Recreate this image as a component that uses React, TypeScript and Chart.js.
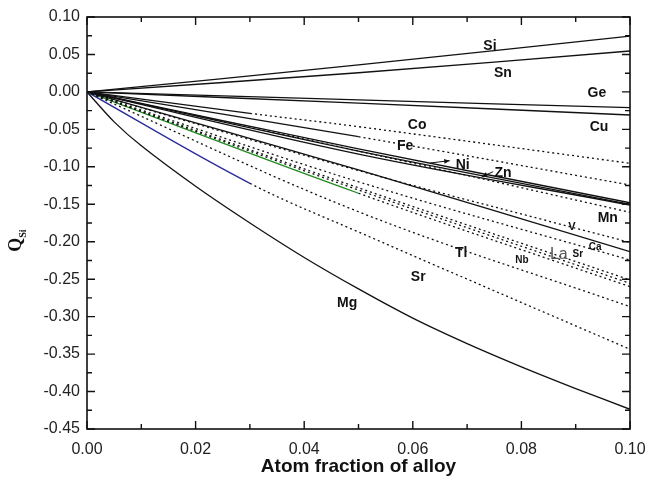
import React, { useEffect, useRef } from "react";
import { Chart, registerables } from "chart.js";

Chart.register(...registerables);

// ---------- data ----------
const X_TICKS = [0, 0.02, 0.04, 0.06, 0.08, 0.1];
const Y_TICKS = [0.1, 0.05, 0, -0.05, -0.1, -0.15, -0.2, -0.25, -0.3, -0.35, -0.4, -0.45];

const xLin = [0, 0.05, 0.1];
const siY = [0, 0.036, 0.0746];
const snY = [0, 0.0256, 0.0546];
const geY = [0, -0.0107, -0.0211];
const cuY = [0, -0.015, -0.0308];

const xCo = [0, 0.03, 0.05, 0.1];
const coY = [0, -0.0286, -0.0464, -0.0953];

const feY = [0, -0.0598, -0.1243];
const niY = [0, -0.076, -0.148];
const znY = [0, -0.079, -0.15];
const c3Y = [0, -0.083, -0.151];
const mnY = [0, -0.079, -0.1607];
const vY = [0, -0.105, -0.201];
const s2Y = [0, -0.104, -0.2133];
const caY = [0, -0.12, -0.2244];
const srSmallY = [0, -0.128, -0.251];
const laY = [0, -0.131, -0.2555];
const tlY = [0, -0.16, -0.2867];

const xGreen = [0, 0.05, 0.1];
const greenY = [0, -0.1353, -0.26];
const xSr = [0, 0.03, 0.05, 0.1];
const srY = [0, -0.122, -0.187, -0.3436];

const xMg = [0, 0.005, 0.01, 0.02, 0.03, 0.04, 0.05, 0.06, 0.07, 0.08, 0.09, 0.1];
const mgY = [0, -0.04, -0.072, -0.126, -0.175, -0.221, -0.263, -0.302, -0.336, -0.367, -0.396, -0.4237];

type Series = { xs: number[]; ys: number[]; solidTo: number; color?: string };

const SERIES: Series[] = [
  { xs: xLin, ys: siY, solidTo: 1 },
  { xs: xLin, ys: snY, solidTo: 1 },
  { xs: xLin, ys: geY, solidTo: 1 },
  { xs: xLin, ys: cuY, solidTo: 1 },
  { xs: xCo, ys: coY, solidTo: 0.03 },
  { xs: xLin, ys: feY, solidTo: 0.05 },
  { xs: xLin, ys: niY, solidTo: 1 },
  { xs: xLin, ys: znY, solidTo: 1 },
  { xs: xLin, ys: c3Y, solidTo: 1 },
  { xs: xLin, ys: mnY, solidTo: 0 },
  { xs: xLin, ys: vY, solidTo: 0 },
  { xs: xLin, ys: s2Y, solidTo: 1 },
  { xs: xLin, ys: caY, solidTo: 0 },
  { xs: xLin, ys: srSmallY, solidTo: 0 },
  { xs: xLin, ys: laY, solidTo: 0 },
  { xs: xLin, ys: tlY, solidTo: 0 },
  { xs: xGreen, ys: greenY, solidTo: 0.05, color: "#1f8a1f" },
  { xs: xSr, ys: srY, solidTo: 0.03, color: "#2b2b9c" },
  { xs: xMg, ys: mgY, solidTo: 1 },
];

type Lbl = { t: string; x: number; y: number; size: number; bold?: boolean; color?: string };
const LABELS: Lbl[] = [
  { t: "Si", x: 0.0742, y: 0.0613, size: 14, bold: true },
  { t: "Sn", x: 0.0766, y: 0.0252, size: 14, bold: true },
  { t: "Ge", x: 0.0939, y: -0.0015, size: 14, bold: true },
  { t: "Cu", x: 0.0943, y: -0.0468, size: 14, bold: true },
  { t: "Co", x: 0.0608, y: -0.0442, size: 14, bold: true },
  { t: "Fe", x: 0.0586, y: -0.0722, size: 14, bold: true },
  { t: "Ni", x: 0.0692, y: -0.0976, size: 14, bold: true },
  { t: "Zn", x: 0.0766, y: -0.1083, size: 14, bold: true },
  { t: "Mn", x: 0.0959, y: -0.1683, size: 14, bold: true },
  { t: "V", x: 0.0893, y: -0.1803, size: 11, bold: true },
  { t: "Ca", x: 0.0936, y: -0.207, size: 10, bold: true },
  { t: "Sr", x: 0.0904, y: -0.2164, size: 10, bold: true },
  { t: "La", x: 0.0869, y: -0.2177, size: 16, color: "#555" },
  { t: "Nb", x: 0.0801, y: -0.2244, size: 10, bold: true },
  { t: "Tl", x: 0.0689, y: -0.215, size: 14, bold: true },
  { t: "Sr", x: 0.061, y: -0.247, size: 14, bold: true },
  { t: "Mg", x: 0.0479, y: -0.2818, size: 14, bold: true },
];

const FONT = "'Liberation Sans', Arial, Helvetica, sans-serif";

export default function App() {
  const ref = useRef<HTMLCanvasElement | null>(null);
  useEffect(() => {
    document.body.style.margin = "0";
    const canvas = ref.current!;
    const datasets = SERIES.map((s) => ({
      data: s.xs.map((x, i) => ({ x, y: s.ys[i] })),
      borderColor: s.color || "#111",
      borderWidth: 1.3,
      pointRadius: 0,
      fill: false,
      tension: 0.35,
      segment: {
        borderDash: (ctx: any) => (ctx.p0.parsed.x >= s.solidTo - 1e-9 ? [2, 3] : undefined),
        borderColor: (ctx: any) => (ctx.p0.parsed.x >= s.solidTo - 1e-9 ? "#111" : s.color || "#111"),
      },
    }));

    const frame = {
      id: "frame",
      afterDatasetsDraw(chart: any) {
        const { ctx, chartArea: a, scales } = chart;
        const xs = scales.x, ys = scales.y;
        ctx.save();
        ctx.strokeStyle = "#111";
        ctx.lineWidth = 1.6;
        ctx.strokeRect(a.left, a.top, a.right - a.left, a.bottom - a.top);
        ctx.lineWidth = 1.4;
        ctx.beginPath();
        for (let i = 0; i <= 10; i++) {
          const px = xs.getPixelForValue(i * 0.01);
          const len = i % 2 === 0 ? 8 : 5;
          ctx.moveTo(px, a.bottom); ctx.lineTo(px, a.bottom - len);
          ctx.moveTo(px, a.top); ctx.lineTo(px, a.top + len);
        }
        for (let i = 0; i <= 22; i++) {
          const py = ys.getPixelForValue(0.1 - i * 0.025);
          const len = i % 2 === 0 ? 8 : 5;
          ctx.moveTo(a.left, py); ctx.lineTo(a.left + len, py);
          ctx.moveTo(a.right, py); ctx.lineTo(a.right - len, py);
        }
        ctx.stroke();

        ctx.textAlign = "center";
        ctx.textBaseline = "middle";
        for (const l of LABELS) {
          ctx.fillStyle = l.color || "#111";
          ctx.font = `${l.bold ? "bold " : ""}${l.size}px ${FONT}`;
          ctx.fillText(l.t, xs.getPixelForValue(l.x), ys.getPixelForValue(l.y));
        }
        const arrow = (x1: number, y1: number, x2: number, y2: number) => {
          const p1x = xs.getPixelForValue(x1), p1y = ys.getPixelForValue(y1);
          const p2x = xs.getPixelForValue(x2), p2y = ys.getPixelForValue(y2);
          ctx.strokeStyle = "#111";
          ctx.lineWidth = 1;
          ctx.beginPath(); ctx.moveTo(p1x, p1y); ctx.lineTo(p2x, p2y); ctx.stroke();
          const ang = Math.atan2(p2y - p1y, p2x - p1x);
          ctx.beginPath();
          ctx.moveTo(p2x, p2y);
          ctx.lineTo(p2x - 6 * Math.cos(ang - 0.4), p2y - 6 * Math.sin(ang - 0.4));
          ctx.lineTo(p2x - 6 * Math.cos(ang + 0.4), p2y - 6 * Math.sin(ang + 0.4));
          ctx.closePath(); ctx.fillStyle = "#111"; ctx.fill();
        };
        arrow(0.0632, -0.0949, 0.0668, -0.0918);
        arrow(0.0748, -0.1065, 0.0727, -0.1132);

        ctx.save();
        ctx.translate(21, ys.getPixelForValue(-0.2) + 4);
        ctx.rotate(-Math.PI / 2);
        ctx.fillStyle = "#111";
        ctx.textAlign = "left";
        ctx.textBaseline = "alphabetic";
        ctx.font = `bold 18px 'Liberation Serif', 'Times New Roman', serif`;
        ctx.fillText("Q", -6, 0);
        ctx.font = `bold 10px 'Liberation Serif', 'Times New Roman', serif`;
        ctx.fillText("Si", 8, 5);
        ctx.restore();
        ctx.restore();
      },
    };

    const chart = new Chart(canvas, {
      type: "line",
      data: { datasets },
      plugins: [frame],
      options: {
        animation: false,
        responsive: false,
        parsing: false as any,
        layout: { padding: { top: 17, right: 17, left: 0, bottom: 0 } },
        plugins: { legend: { display: false }, tooltip: { enabled: false } },
        scales: {
          x: {
            type: "linear",
            min: 0,
            max: 0.1,
            afterBuildTicks: (s: any) => { s.ticks = X_TICKS.map((v) => ({ value: v })); },
            afterFit: (s: any) => { s.height = 480 - 429; s.paddingLeft = 0; s.paddingRight = 0; },
            grid: { display: false, drawTicks: false },
            border: { display: false },
            ticks: {
              padding: 11,
              color: "#222",
              font: { family: FONT, size: 16 },
              callback: (v: any) => Number(v).toFixed(2),
            },
            title: {
              display: true,
              text: "Atom fraction of alloy",
              color: "#111",
              font: { family: FONT, size: 19, weight: "bold" },
              padding: { top: 0, bottom: 2 },
            },
          },
          y: {
            type: "linear",
            min: -0.45,
            max: 0.1,
            afterBuildTicks: (s: any) => { s.ticks = Y_TICKS.map((v) => ({ value: v })); },
            afterFit: (s: any) => { s.width = 87; },
            grid: { display: false, drawTicks: false },
            border: { display: false },
            ticks: {
              padding: 7,
              color: "#222",
              font: { family: FONT, size: 16 },
              callback: (v: any) => Number(v).toFixed(2),
            },
          },
        },
      },
    });
    return () => chart.destroy();
  }, []);
  return <canvas ref={ref} width={647} height={480} style={{ display: "block" }} />;
}
